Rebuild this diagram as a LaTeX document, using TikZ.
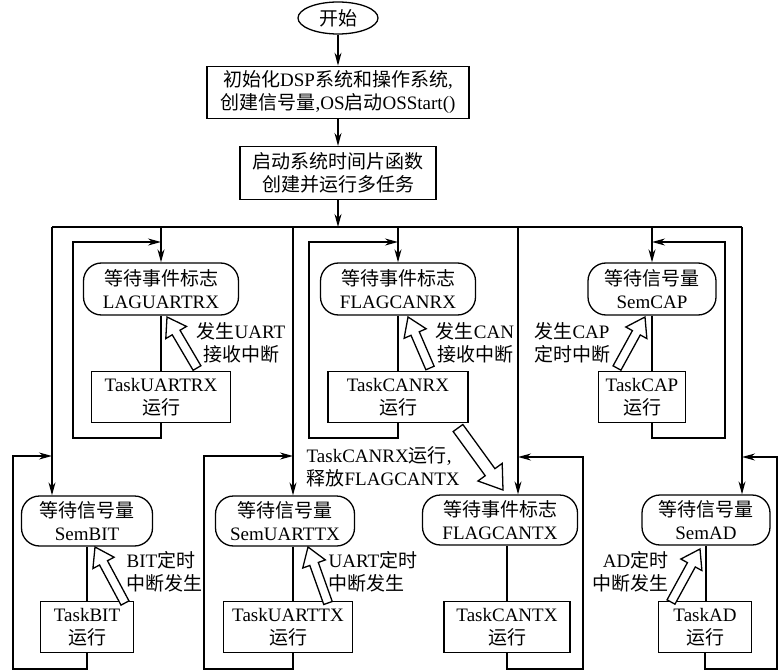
\documentclass[tikz,border=0pt]{standalone}
\usepackage{fontspec}
\setmainfont{Liberation Serif}
\newfontfamily\zhfont{Noto Sans CJK SC}
\newcommand\zh[1]{{\zhfont #1}}
\usetikzlibrary{positioning,arrows.meta,shapes.geometric,calc}

% hollow block arrow: tail, tip, shaft half width, head half width, head length
\newcommand\fatarrow[5]{%
  \draw[hollow] let \p1=(#1), \p2=(#2),
      \n1={atan2(\y2-\y1,\x2-\x1)}, \n2={veclen(\x2-\x1,\y2-\y1)} in
    [shift={(\p1)}, rotate=\n1]
    (0pt,#3pt) -- ({\n2-#5pt},#3pt) -- ({\n2-#5pt},#4pt) -- (\n2,0pt)
    -- ({\n2-#5pt},-#4pt) -- ({\n2-#5pt},-#3pt) -- (0pt,-#3pt) -- cycle;}

\begin{document}
\begin{tikzpicture}[
  x=1pt, y=-1pt,
  font=\fontsize{19}{23}\selectfont,
  line width=1.3pt,
  term/.style={draw, ellipse, minimum width=80pt, minimum height=32pt, inner sep=0pt},
  box/.style={draw, minimum height=52pt, inner sep=0pt, align=center},
  wait/.style={draw, rounded corners=18pt, minimum height=50pt, inner sep=0pt, align=center},
  task/.style={draw, minimum height=51pt, inner sep=0pt, align=center},
  arr/.style={-{Stealth[length=13pt,width=7pt]}},
  hollow/.style={draw, fill=white, line join=miter},
  lbl/.style={align=center, inner sep=0pt}
]
\useasboundingbox (0,0) rectangle (779,671);

% start and init
\node[term] (start) at (338,18) {\zh{开始}};
\node[box, minimum width=262pt, below=31pt of start] (init) {\zh{初始化}DSP\zh{系统和操作系统},\\\zh{创建信号量},OS\zh{启动}OSStart()};
\node[box, minimum width=196pt, minimum height=53pt, below=27pt of init] (sched) {\zh{启动系统时间片函数}\\\zh{创建并运行多任务}};

% upper tasks
\node[wait, minimum width=155pt, minimum height=52pt] (wurx) at (161,289) {\zh{等待事件标志}\\LAGUARTRX};
\node[wait, minimum width=155pt, minimum height=52pt] (wcrx) at (398,289) {\zh{等待事件标志}\\FLAGCANRX};
\node[wait, minimum width=128pt, minimum height=52pt] (wcap) at (652,289) {\zh{等待信号量}\\SemCAP};
\node[task, minimum width=139pt] (turx) at (161,397) {TaskUARTRX\\\zh{运行}};
\node[task, minimum width=140pt] (tcrx) at (398,397) {TaskCANRX\\\zh{运行}};
\node[task, minimum width=87pt] (tcap) at (642,397) {TaskCAP\\\zh{运行}};

% lower tasks
\node[wait, minimum width=131pt] (wbit) at (87,521) {\zh{等待信号量}\\SemBIT};
\node[wait, minimum width=139pt] (wutx) at (285,521) {\zh{等待信号量}\\SemUARTTX};
\node[wait, minimum width=155pt] (wctx) at (500,520) {\zh{等待事件标志}\\FLAGCANTX};
\node[wait, minimum width=128pt] (wad) at (706,520) {\zh{等待信号量}\\SemAD};
\node[task, minimum width=93pt] (tbit) at (87,627) {TaskBIT\\\zh{运行}};
\node[task, minimum width=129pt] (tutx) at (288,627) {TaskUARTTX\\\zh{运行}};
\node[task, minimum width=126pt] (tctx) at (507,627) {TaskCANTX\\\zh{运行}};
\node[task, minimum width=93pt] (tad) at (705,627) {TaskAD\\\zh{运行}};

% labels
\node[lbl] (lurx) at (241,343) {\zh{发生}UART\\\zh{接收中断}};
\node[lbl] (lcrx) at (475,343) {\zh{发生}CAN\\\zh{接收中断}};
\node[lbl] (lcap) at (572,343) {\zh{发生}CAP\\\zh{定时中断}};
\node[lbl, anchor=west, align=left] (lctx) at (306,467) {TaskCANRX\zh{运行},\\\zh{释放}FLAGCANTX};
\node[lbl, anchor=west, align=left] (lbit) at (126,572) {BIT\zh{定时}\\\zh{中断发生}};
\node[lbl, anchor=west, align=left] (lutx) at (328,572) {UART\zh{定时}\\\zh{中断发生}};
\node[lbl, anchor=east, align=right] (lad) at (669,572) {AD\zh{定时}\\\zh{中断发生}};

% bus
\coordinate (bus0) at (52,227);
\coordinate (bus1) at (742,227);
\coordinate (dutx) at (293,227);
\coordinate (dctx) at (518,227);
\draw (bus0) -- (bus1);
\draw[arr] (start) -- (init);
\draw[arr] (init) -- (sched);
\draw[arr] (sched) -- (sched.south |- bus0);
\draw[arr] (wurx.north |- bus0) -- (wurx.north);
\draw[arr] (wcrx.north |- bus0) -- (wcrx.north);
\draw[arr] (wcap.north |- bus0) -- (wcap.north);
\draw[arr] (bus0) -- (bus0 |- wbit.north);
\draw[arr] (dutx) -- (dutx |- wutx.north);
\draw[arr] (dctx) -- (dctx |- wctx.north);
\draw[arr] (bus1) -- (bus1 |- wad.north);

% wait -> task
\draw (wurx.south) -- (wurx.south |- turx.north);
\draw (wcrx.south) -- (wcrx.south |- tcrx.north);
\draw (wcap.south) -- (wcap.south |- tcap.north);
\draw (wbit.south) -- (wbit.south |- tbit.north);
\draw (dutx |- wutx.south) -- (dutx |- tutx.north);
\draw (tctx.north |- wctx.south) -- (tctx.north);
\draw (wad.south) -- (wad.south |- tad.north);

% loops back
\coordinate (jurx) at (161,242);
\coordinate (jcrx) at (398,242);
\coordinate (jcap) at (652,242);
\coordinate (jbit) at (52,456);
\coordinate (jutx) at (293,456);
\coordinate (jctx) at (518,457);
\coordinate (jad) at (742,457);
\draw[arr] (turx.south) |- (73,438) |- (jurx);
\draw[arr] (tcrx.south) |- (309,438) |- (jcrx);
\draw[arr] (tcap.south -| jcap) |- (725,438) |- (jcap);
\draw[arr] (tbit.south) |- (13,669) |- (jbit);
\draw[arr] (tutx.south -| jutx) |- (204,669) |- (jutx);
\draw[arr] (tctx.south) |- (583,669) |- (jctx);
\draw[arr] (tad.south) |- (777,669) |- (jad);

% hollow arrows
\coordinate (a1) at (197,368); \coordinate (b1) at (167,317);
\coordinate (a2) at (430,368); \coordinate (b2) at (408,317);
\coordinate (a3) at (617,368); \coordinate (b3) at (645,317);
\coordinate (a4) at (458,428); \coordinate (b4) at (503,490);
\coordinate (a5) at (125,603); \coordinate (b5) at (95,547);
\coordinate (a6) at (328,603); \coordinate (b6) at (308,547);
\coordinate (a7) at (671,602); \coordinate (b7) at (700,549);
\fatarrow{a1}{b1}{4.5}{12}{18}
\fatarrow{a2}{b2}{4.5}{12}{18}
\fatarrow{a3}{b3}{4.5}{12}{18}
\fatarrow{a4}{b4}{6}{15}{22}
\fatarrow{a5}{b5}{4.5}{12}{18}
\fatarrow{a6}{b6}{4.5}{12}{18}
\fatarrow{a7}{b7}{4.5}{12}{18}
\end{tikzpicture}
\end{document}
